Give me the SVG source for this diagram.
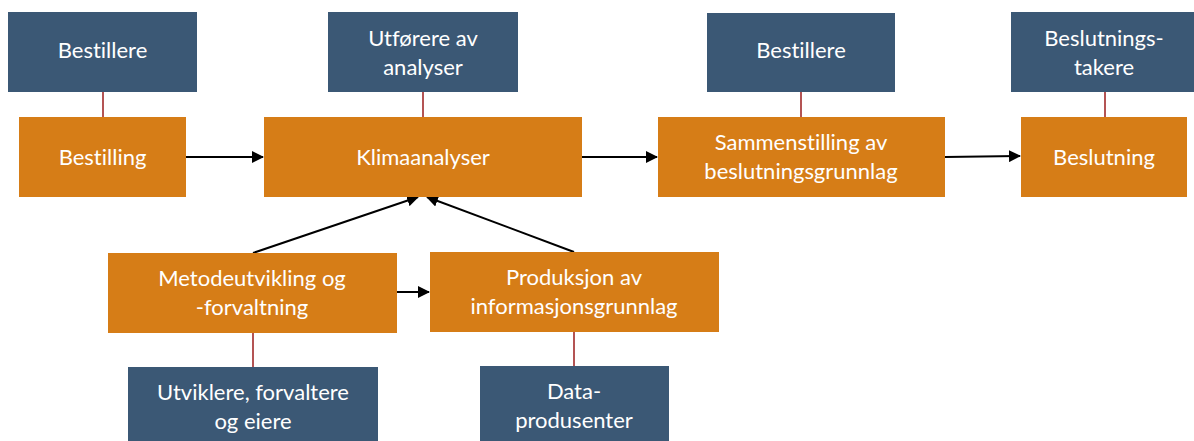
<svg xmlns="http://www.w3.org/2000/svg" width="1194" height="441" viewBox="0 0 1194 441">
<defs>
<style>
.actor{fill:#3B5875}
.step{fill:#D67D17}
.t{fill:#ffffff;font-family:Lato,"Open Sans","Liberation Sans",sans-serif;font-size:22px;text-anchor:middle;font-variant-ligatures:none}
.link{stroke:#9B1B1B;stroke-width:1.5;fill:none}
.flow{stroke:#000;stroke-width:2;fill:none;marker-end:url(#ah)}
</style>
<marker id="ah" markerWidth="12" markerHeight="12" refX="11" refY="6" orient="auto" markerUnits="userSpaceOnUse" viewBox="0 0 12 12">
<path d="M0,0 L12,6 L0,12 z" fill="#000"/>
</marker>
</defs>
<rect width="1194" height="441" fill="#ffffff"/>
<g id="connectors">
<line class="link" x1="103" y1="92" x2="103" y2="117"/>
<line class="link" x1="423" y1="92" x2="423" y2="117"/>
<line class="link" x1="801" y1="92" x2="801" y2="117"/>
<line class="link" x1="1105" y1="92" x2="1105" y2="117"/>
<line class="link" x1="253" y1="333" x2="253" y2="367"/>
<line class="link" x1="574" y1="332" x2="574" y2="367"/>
<line class="flow" x1="186" y1="157" x2="263" y2="157"/>
<line class="flow" x1="582" y1="157" x2="657" y2="157"/>
<line class="flow" x1="945" y1="157" x2="1020" y2="156"/>
<line class="flow" x1="397" y1="292" x2="429" y2="292"/>
<line class="flow" x1="253" y1="253" x2="418" y2="197"/>
<line class="flow" x1="574" y1="252" x2="427" y2="197"/>
</g>
<g id="n-bestillere1"><rect class="actor" x="8" y="12" width="189" height="80"/><text class="t" x="102.5" y="58">Bestillere</text></g>
<g id="n-utforere"><rect class="actor" x="328" y="12" width="190" height="80"/><text class="t" x="423" y="46">Utførere av</text><text class="t" x="423" y="75">analyser</text></g>
<g id="n-bestillere2"><rect class="actor" x="707" y="13" width="188" height="79"/><text class="t" x="801" y="58">Bestillere</text></g>
<g id="n-beslutningstakere"><rect class="actor" x="1011" y="12" width="190" height="80"/><text class="t" x="1104" y="46">Beslutnings-</text><text class="t" x="1104" y="75">takere</text></g>
<g id="n-bestilling"><rect class="step" x="19" y="117" width="167" height="80"/><text class="t" x="102.5" y="165">Bestilling</text></g>
<g id="n-klimaanalyser"><rect class="step" x="264" y="117" width="318" height="80"/><text class="t" x="423" y="165">Klimaanalyser</text></g>
<g id="n-sammenstilling"><rect class="step" x="658" y="117" width="287" height="80"/><text class="t" x="801" y="150">Sammenstilling av</text><text class="t" x="801" y="179">beslutningsgrunnlag</text></g>
<g id="n-beslutning"><rect class="step" x="1021" y="117" width="166" height="80"/><text class="t" x="1104" y="165">Beslutning</text></g>
<g id="n-metode"><rect class="step" x="108" y="253" width="289" height="80"/><text class="t" x="252" y="286">Metodeutvikling og</text><text class="t" x="252" y="315">-forvaltning</text></g>
<g id="n-produksjon"><rect class="step" x="430" y="252" width="289" height="80"/><text class="t" x="574" y="285">Produksjon av</text><text class="t" x="574" y="314">informasjonsgrunnlag</text></g>
<g id="n-utviklere"><rect class="actor" x="128" y="367" width="250" height="80"/><text class="t" x="253" y="400">Utviklere, forvaltere</text><text class="t" x="253" y="429">og eiere</text></g>
<g id="n-dataprodusenter"><rect class="actor" x="480" y="366" width="189" height="80"/><text class="t" x="574" y="399">Data-</text><text class="t" x="574" y="428">produsenter</text></g>
</svg>
